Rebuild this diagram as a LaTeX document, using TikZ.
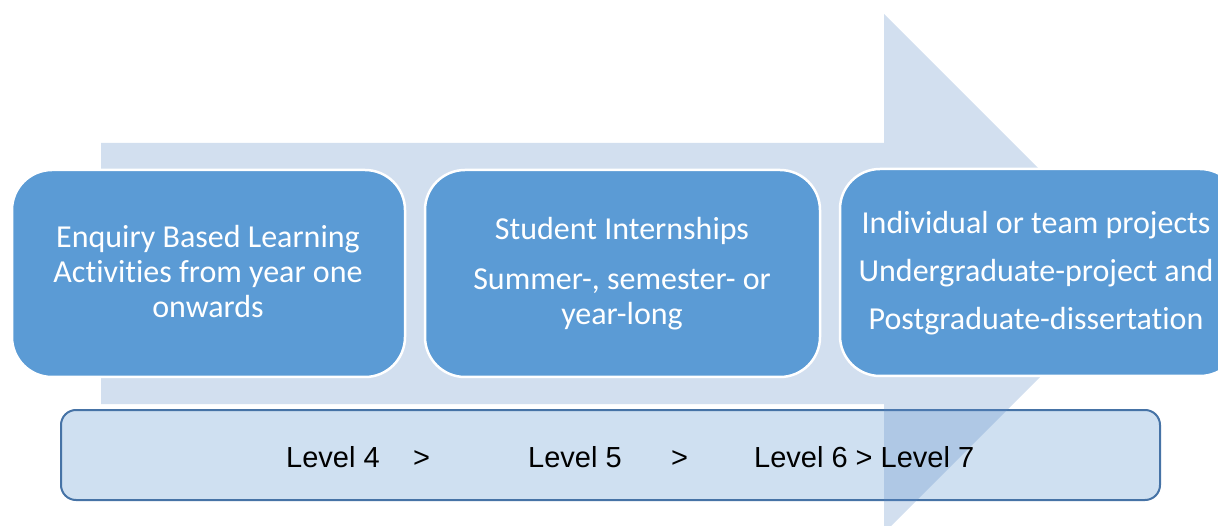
\documentclass[tikz,border=0pt]{standalone}
\usepackage{fontspec}
\setmainfont[Ligatures=NoCommon]{Carlito}
\newfontfamily\arialfont{Liberation Sans}
\definecolor{boxblue}{HTML}{5B9BD5}
\definecolor{arrowblue}{RGB}{89,136,197}
\definecolor{levelfill}{HTML}{CFE0F1}
\definecolor{leveldraw}{HTML}{4673A6}
\begin{document}
\begin{tikzpicture}[x=1pt,y=-1pt,
  stagebox/.style={fill=boxblue,draw=white,line width=2.5pt,rounded corners=40pt},
  stagetext/.style={text=white,font=\fontsize{32}{35}\selectfont,align=center,inner sep=0pt},
  leveltext/.style={font=\arialfont\fontsize{29}{34}\selectfont,text=black,inner sep=0pt,anchor=base west}]
\useasboundingbox (0,0) rectangle (1218,526);
% bottom level bar
\draw[fill=levelfill,draw=leveldraw,line width=2pt,rounded corners=15pt] (61,410) rectangle (1160,500);
% big arrow
\fill[arrowblue,fill opacity=0.27] (101,143) -- (884,143) -- (884,14) -- (1143.5,273.5) -- (884,533) -- (884,404) -- (101,404) -- cycle;
% stage boxes
\draw[stagebox] (12,170) rectangle (405,377);
\draw[stagebox] (425,170) rectangle (820,377);
\draw[stagebox] (840,169) rectangle (1240,376);
\node[stagetext] (s1) at (208,272) {Enquiry Based Learning\\Activities from year one\\onwards};
\node[stagetext] (s2) at (622,274) {Student Internships\\[15pt]Summer-, semester- or\\year-long};
\node[stagetext] (s3) at (1036,273) {Individual or team projects\\[13pt]Undergraduate-project and\\[13pt]Postgraduate-dissertation};
% level texts
\node[leveltext] (l4) at (286,467) {Level 4};
\node[leveltext] (g1) at (413,467) {>};
\node[leveltext] (l5) at (528,467) {Level 5};
\node[leveltext] (g2) at (671,467) {>};
\node[leveltext] (l67) at (754,467) {Level 6 > Level 7};
\end{tikzpicture}
\end{document}
